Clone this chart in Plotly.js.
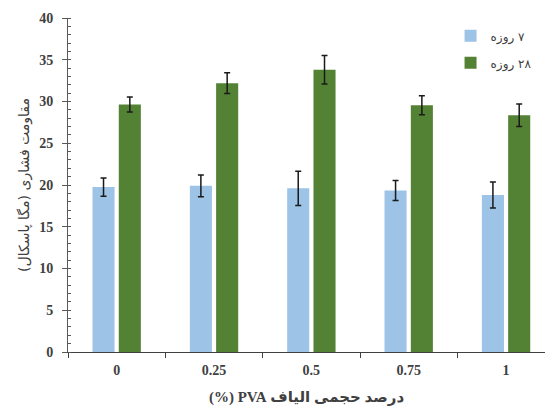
<!DOCTYPE html>
<html>
<head>
<meta charset="utf-8">
<script src="https://cdn.plot.ly/plotly-3.0.1.min.js"></script>
<style>
  html, body { margin: 0; padding: 0; background: #ffffff; }
  #chart { width: 545px; height: 407px; }
</style>
</head>
<body>
<div id="chart"></div>
<script>
// PVA fibre volume fraction (%) on the x axis
const fiberContent = ['0', '0.25', '0.5', '0.75', '1'];

// Compressive strength (MPa) at 7 and 28 days, with standard deviations
const strength7 = [19.75, 19.9, 19.6, 19.35, 18.8];
const error7 = [1.1, 1.3, 2.05, 1.2, 1.55];
const strength28 = [29.65, 32.2, 33.8, 29.55, 28.35];
const error28 = [0.9, 1.25, 1.7, 1.15, 1.35];

// Series names and axis titles (Persian, right-to-left embedding)
const RLE = '\u202B', PDF = '\u202C';
const name7 = RLE + '۷ روزه' + PDF;
const name28 = RLE + '۲۸ روزه' + PDF;
const xTitle = RLE + 'درصد حجمی الیاف PVA (%)' + PDF;
const yTitle = RLE + 'مقاومت فشاری (مگا پاسکال)' + PDF;

const errStyle = { type: 'data', visible: true, color: '#1a1a1a', thickness: 1.5, width: 3 };

const traces = [
  {
    type: 'bar', name: name7, x: fiberContent, y: strength7,
    marker: { color: '#9DC3E6', line: { width: 0 } },
    error_y: Object.assign({ array: error7 }, errStyle),
    legendgroup: 'a'
  },
  {
    type: 'bar', name: name28, x: fiberContent, y: strength28,
    marker: { color: '#548235', line: { width: 0 } },
    error_y: Object.assign({ array: error28 }, errStyle),
    legendgroup: 'b'
  }
];

const tickFont = { family: 'Liberation Serif, DejaVu Serif, serif', size: 14, color: '#404040', weight: 'bold' };

const layout = {
  width: 545,
  height: 407,
  margin: { l: 68, r: 0, t: 18, b: 55 },
  paper_bgcolor: '#ffffff',
  plot_bgcolor: '#ffffff',
  barmode: 'group',
  bargap: 0.46,
  bargroupgap: 0.16,
  showlegend: true,
  legend: {
    x: 0.802, xanchor: 'left',
    y: 0.99, yanchor: 'top',
    font: { family: 'DejaVu Sans, sans-serif', size: 12, color: '#404040' },
    bgcolor: 'rgba(0,0,0,0)',
    tracegroupgap: 8,
    traceorder: 'grouped'
  },
  xaxis: {
    type: 'category',
    range: [-0.5, 4.4],
    showline: true, linecolor: '#404040', linewidth: 1,
    ticks: 'outside', ticklen: 5, tickcolor: '#404040',
    tickson: 'boundaries',
    tickfont: tickFont,
    ticklabelstandoff: 5,
    showgrid: false, zeroline: false,
    title: {
      text: xTitle,
      font: { family: 'Liberation Serif, DejaVu Sans, serif', size: 15, color: '#404040', weight: 'bold' },
      standoff: 14
    }
  },
  yaxis: {
    range: [0, 40],
    dtick: 5,
    showline: true, linecolor: '#595959', linewidth: 1,
    ticks: 'outside', ticklen: 5, tickcolor: '#595959',
    minor: { dtick: 1, ticks: 'inside', ticklen: 3, tickcolor: '#595959' },
    tickfont: tickFont,
    ticklabelstandoff: 6,
    showgrid: false, zeroline: false,
    title: {
      text: yTitle,
      font: { family: 'DejaVu Sans, sans-serif', size: 14, color: '#404040' },
      standoff: 6
    }
  }
};

Plotly.newPlot('chart', traces, layout, { displayModeBar: false, staticPlot: true });
</script>
</body>
</html>
